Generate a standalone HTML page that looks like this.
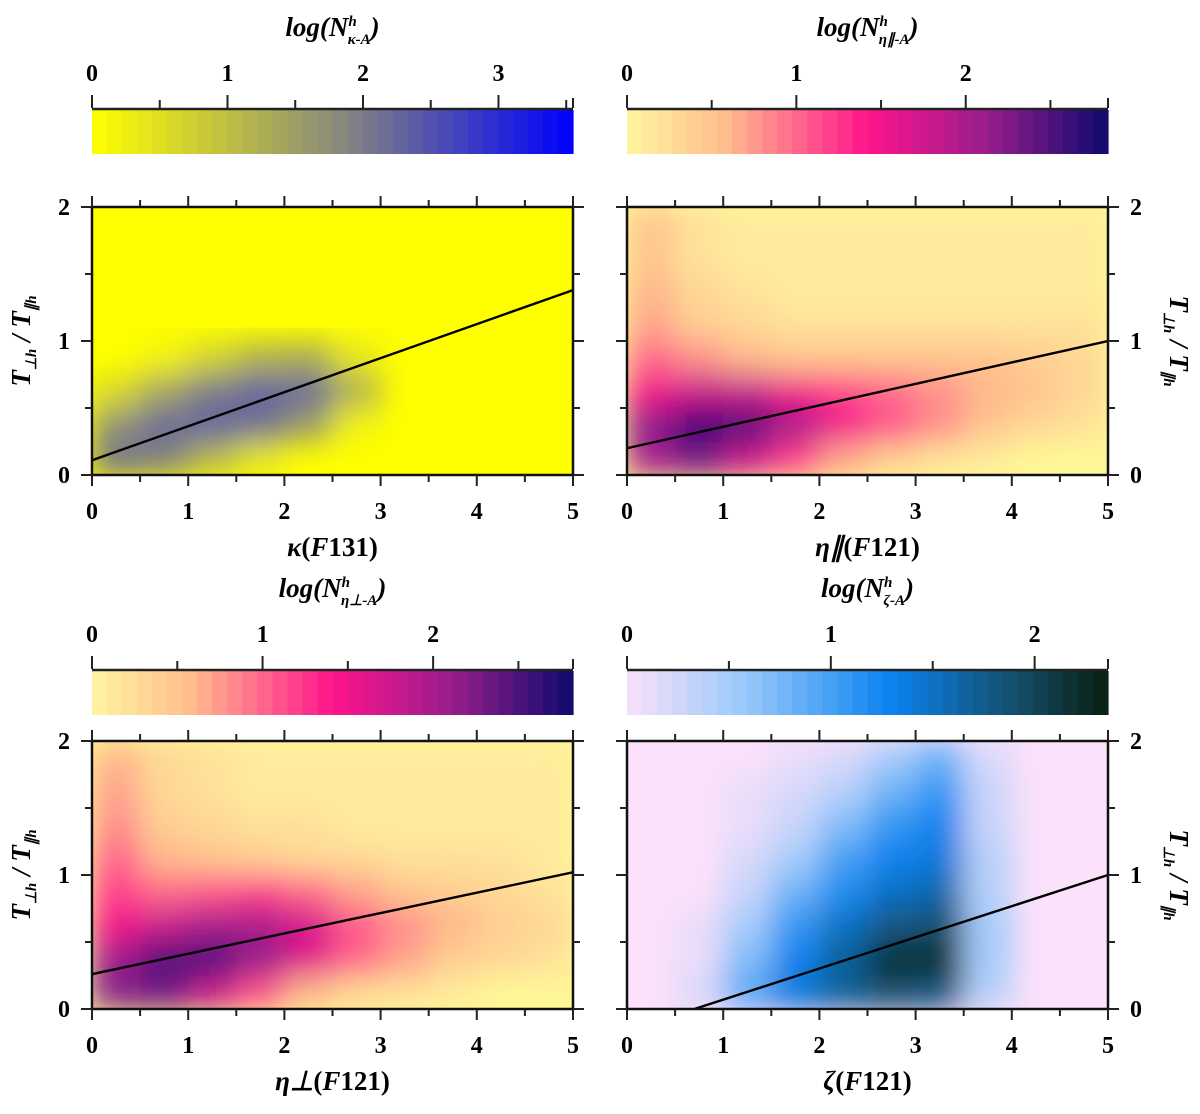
<!DOCTYPE html>
<html><head><meta charset="utf-8">
<style>
html,body{margin:0;padding:0;background:#fff;}
svg{display:block;}
text{font-family:"Liberation Serif",serif;font-weight:bold;fill:#000;}
</style></head>
<body>
<svg id="fig" width="1200" height="1114" viewBox="0 0 1200 1114" xmlns="http://www.w3.org/2000/svg">
<defs>
<filter id="blur" x="-10%" y="-10%" width="120%" height="120%"><feGaussianBlur stdDeviation="15"/></filter>
</defs>
</svg>
<script>
// ---- data (log density grids, rows from y=0 upward, cols 0.5-wide in x) ----
const xTicks = [0,1,2,3,4,5];
const yTicks = [0,1,2];
const gridTL = [
 [2.1,1.9,1.1,0.4,0,0,0,0,0,0],
 [1.7,2.2,2.3,2.1,1.5,0.2,0,0,0,0],
 [0.6,1.4,2.0,2.3,2.2,1.2,0,0,0,0],
 [0,0.2,0.7,1.2,1.3,0.4,0,0,0,0],
 [0,0,0,0,0,0,0,0,0,0],[0,0,0,0,0,0,0,0,0,0],[0,0,0,0,0,0,0,0,0,0],[0,0,0,0,0,0,0,0,0,0]];
const gridTR = [
 [2.0,2.3,1.8,1.2,0.7,0.4,0.2,0.1,0,0],
 [2.2,2.6,2.5,2.0,1.5,1.1,0.8,0.5,0.3,0.2],
 [1.5,1.8,1.8,1.5,1.2,1.0,0.8,0.6,0.5,0.3],
 [1.0,0.8,0.6,0.5,0.5,0.5,0.5,0.5,0.4,0.3],
 [0.7,0.4,0.3,0.2,0.2,0.2,0.2,0.2,0.2,0.2],
 [0.6,0.3,0.2,0.1,0.1,0.1,0.1,0.1,0.1,0.1],
 [0.5,0.2,0.1,0.1,0.1,0.1,0.1,0.1,0.1,0.1],
 [0.5,0.2,0.1,0.1,0.1,0.1,0.1,0.1,0.1,0.1]];
const gridBL = [
 [2.2,2.3,1.8,1.1,0.6,0.3,0.2,0.1,0,0],
 [2.1,2.5,2.5,2.1,1.6,1.0,0.7,0.4,0.3,0.2],
 [1.5,1.8,2.0,2.0,1.7,1.1,0.8,0.6,0.4,0.3],
 [1.2,1.0,1.1,1.2,1.0,0.7,0.5,0.4,0.3,0.2],
 [1.0,0.6,0.5,0.4,0.3,0.3,0.2,0.2,0.2,0.1],
 [0.8,0.4,0.3,0.2,0.2,0.1,0.1,0.1,0.1,0.1],
 [0.7,0.3,0.2,0.1,0.1,0.1,0.1,0.1,0.1,0.1],
 [0.6,0.3,0.2,0.1,0.1,0.1,0.1,0.1,0.1,0.1]];
const gridBR = [
 [0,0.2,0.9,1.4,1.7,1.9,1.8,0.4,0,0],
 [0,0.1,0.7,1.3,1.7,2.2,2.2,0.5,0,0],
 [0,0.1,0.5,1.1,1.5,1.8,1.9,0.5,0,0],
 [0,0,0.3,0.8,1.2,1.5,1.6,0.4,0,0],
 [0,0,0.2,0.5,1.0,1.3,1.4,0.4,0,0],
 [0,0,0.1,0.3,0.7,1.1,1.3,0.3,0,0],
 [0,0,0.1,0.2,0.4,0.8,1.1,0.3,0,0],
 [0,0,0,0.1,0.2,0.5,0.8,0.2,0,0]];
const fitTL = [[0,0.11],[5,1.38]];
const fitTR = [[0,0.20],[5,1.00]];
const fitBL = [[0,0.26],[5,1.02]];
const fitBR = [[0.7,0],[5,1.00]];
const cbMaxTL = 3.55, cbMaxTR = 2.84, cbMaxBL = 2.82, cbMaxBR = 2.36;
const cbTicksTL = [0,1,2,3], cbTicksTR = [0,1,2], cbTicksBL = [0,1,2], cbTicksBR = [0,1,2];

const NS = "http://www.w3.org/2000/svg";
const svg = document.getElementById('fig');
function mk(tag, attrs, parent){const e=document.createElementNS(NS,tag);for(const k in attrs)e.setAttribute(k,attrs[k]);(parent||svg).appendChild(e);return e;}
function lerp(a,b,t){return a+(b-a)*t;}
function cmap(stops,t){t=Math.max(0,Math.min(1,t));for(let i=1;i<stops.length;i++){if(t<=stops[i][0]){const s=stops[i-1],e=stops[i];const u=(t-s[0])/(e[0]-s[0]);return `rgb(${Math.round(lerp(s[1],e[1],u))},${Math.round(lerp(s[2],e[2],u))},${Math.round(lerp(s[3],e[3],u))})`;}}const l=stops[stops.length-1];return `rgb(${l[1]},${l[2]},${l[3]})`;}
const cmYB=[[0,255,255,0],[0.5,140,140,120],[1,0,0,255]];
const cmPK=[[0,255,245,160],[0.2,255,190,140],[0.5,255,20,140],[0.75,150,30,140],[1,15,10,110]];
const cmBL=[[0,250,225,250],[0.25,150,200,250],[0.55,10,130,240],[0.8,20,80,110],[1,10,30,15]];

const panels=[
 {id:'tl',px:92,py:207,grid:gridTL,fit:fitTL,cm:cmYB,cbMax:cbMaxTL,cbTicks:cbTicksTL,cbY:108,bg:'rgb(255,255,0)',right:false,xl:'κ',sub:'κ-A'},
 {id:'tr',px:627,py:207,grid:gridTR,fit:fitTR,cm:cmPK,cbMax:cbMaxTR,cbTicks:cbTicksTR,cbY:108,bg:'rgb(255,248,150)',right:true,xl:'η∥',sub:'η∥-A'},
 {id:'bl',px:92,py:741,grid:gridBL,fit:fitBL,cm:cmPK,cbMax:cbMaxBL,cbTicks:cbTicksBL,cbY:669,bg:'rgb(255,248,150)',right:false,xl:'η⊥',sub:'η⊥-A'},
 {id:'br',px:627,py:741,grid:gridBR,fit:fitBR,cm:cmBL,cbMax:cbMaxBR,cbTicks:cbTicksBR,cbY:669,bg:'rgb(252,225,250)',right:true,xl:'ζ',sub:'ζ-A'}
];
const W=481,H=268;
panels.forEach(p=>{
 const g=mk('g',{});  
 const sx=v=>p.px+v/5*W, sy=v=>p.py+H-v/2*H;
 const cb=mk('g',{},g);  
 const nb=32, cw=W/nb;
 for(let i=0;i<nb;i++){mk('rect',{x:p.px+i*cw,y:p.cbY+2,width:cw+0.6,height:44,fill:cmap(p.cm,(i+0.5)/nb)},cb);}
 mk('line',{x1:p.px,x2:p.px+W,y1:p.cbY+1,y2:p.cbY+1,stroke:'#222','stroke-width':2.5},cb);
 const cu=W/p.cbMax;
 for(let v=0;v<=p.cbMax+0.001;v+=0.5){const x=p.px+v*cu;const maj=Math.abs(v-Math.round(v))<0.01;mk('line',{x1:x,x2:x,y1:p.cbY,y2:p.cbY-(maj?13:8),stroke:'#222','stroke-width':2},cb);}
 mk('line',{x1:p.px+W,x2:p.px+W,y1:p.cbY,y2:p.cbY-10,stroke:'#222','stroke-width':2},cb);
 p.cbTicks.forEach(v=>{const t=mk('text',{x:p.px+v*cu,y:p.cbY-27,'text-anchor':'middle','font-size':24},cb);t.textContent=v;});
 const tt=mk('text',{x:p.px+W/2,y:p.cbY-72,'text-anchor':'middle','font-size':27,'font-style':'italic'},cb);
  
 tt.innerHTML='log(N<tspan font-size="15" dy="-10">h</tspan><tspan font-size="15" dy="18" dx="-9">'+p.sub+'</tspan><tspan dy="-8">)</tspan>';
 const clipId='clip-'+p.id;
 const cp=mk('clipPath',{id:clipId},svg.querySelector('defs'));mk('rect',{x:p.px,y:p.py,width:W,height:H},cp);
 const hm=mk('g',{'clip-path':`url(#${clipId})`},g);  
 mk('rect',{x:p.px,y:p.py,width:W,height:H,fill:p.bg},hm);
 const cells=mk('g',{filter:'url(#blur)'},hm);
 p.grid.forEach((row,r)=>row.forEach((v,c)=>{if(v<=0)return;const x0=c*0.5,y0=r*0.25;
   const rc=mk('rect',{x:sx(x0),y:sy(y0+0.25),width:sx(x0+0.5)-sx(x0)+0.5,height:sy(y0)-sy(y0+0.25)+0.5,fill:cmap(p.cm,v/p.cbMax)},cells);
    }));
 const fl=mk('line',{x1:sx(p.fit[0][0]),y1:sy(p.fit[0][1]),x2:sx(p.fit[1][0]),y2:sy(p.fit[1][1]),stroke:'#000','stroke-width':2.4},hm);
  
 mk('rect',{x:p.px,y:p.py,width:W,height:H,fill:'none',stroke:'#111','stroke-width':2.5},g);
 for(let v=0;v<=5.001;v+=0.5){const x=sx(v);const maj=Math.abs(v-Math.round(v))<0.01;const L=maj?11:7;
   mk('line',{x1:x,x2:x,y1:p.py,y2:p.py-L,stroke:'#222','stroke-width':2},g);
   mk('line',{x1:x,x2:x,y1:p.py+H,y2:p.py+H+L,stroke:'#222','stroke-width':2},g);}
 for(let v=0;v<=2.001;v+=0.5){const y=sy(v);const maj=Math.abs(v-Math.round(v))<0.01;const L=maj?11:7;
   mk('line',{x1:p.px,x2:p.px-L,y1:y,y2:y,stroke:'#222','stroke-width':2},g);
   mk('line',{x1:p.px+W,x2:p.px+W+L,y1:y,y2:y,stroke:'#222','stroke-width':2},g);}
 xTicks.forEach(v=>{const t=mk('text',{x:sx(v),y:p.py+H+44,'text-anchor':'middle','font-size':24},g);t.textContent=v;});
 yTicks.forEach(v=>{const t=mk('text',{x:p.right?p.px+W+28:p.px-28,y:sy(v)+8,'text-anchor':'middle','font-size':24},g);t.textContent=v;});
 const xl=mk('text',{x:p.px+W/2,y:p.py+H+81,'text-anchor':'middle','font-size':27},g);
  
 xl.innerHTML='<tspan font-style="italic">'+p.xl+'</tspan>(<tspan font-style="italic">F</tspan>'+(p.id==='tl'?'131)':'121)');
 const yx=p.right?p.px+W+62:p.px-62, yy=p.py+H/2;
 const yl=mk('text',{x:yx,y:yy,'text-anchor':'middle','font-size':27,'font-style':'italic',transform:`rotate(${p.right?90:-90} ${yx} ${yy})`},g);
  
 yl.innerHTML='T<tspan font-size="15" dy="6">⊥h</tspan><tspan dy="-6"> / T</tspan><tspan font-size="15" dy="6">∥h</tspan>';
});
</script>
</body></html>
